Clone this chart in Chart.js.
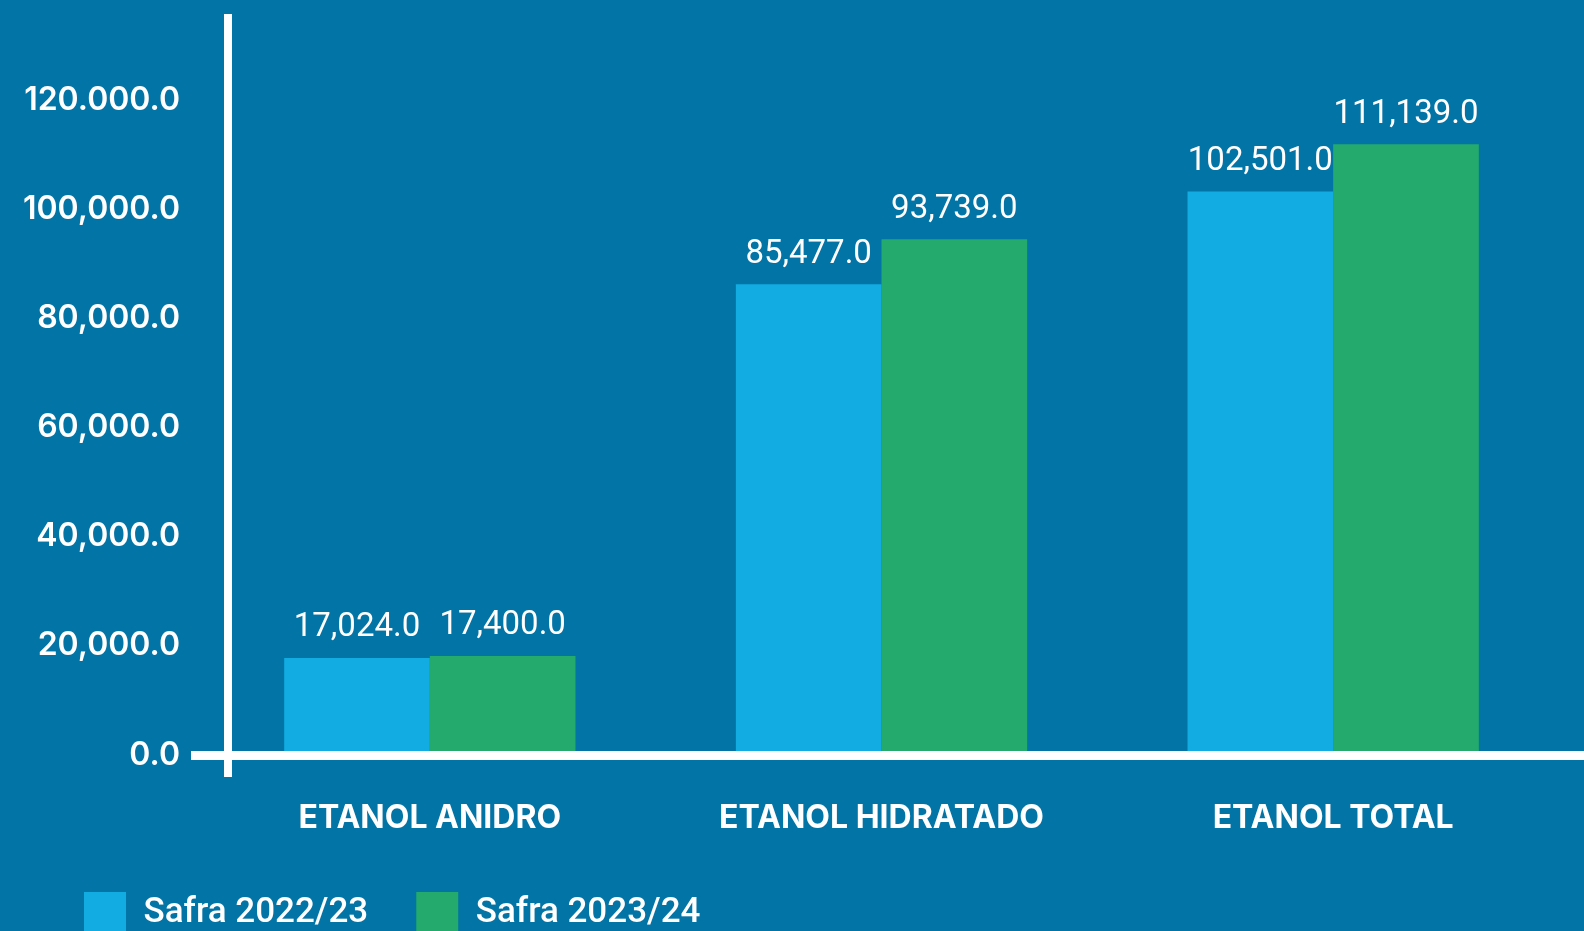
<!DOCTYPE html>
<html>
<head>
<meta charset="utf-8">
<script src="https://cdn.jsdelivr.net/npm/chart.js@4.4.1/dist/chart.umd.min.js"></script>
<style>
    html, body {
        margin: 0;
        padding: 0;
        background: #0374a6;
        overflow: hidden;
    }
    canvas {
        display: block;
    }
</style>
</head>
<body>
<canvas id="chart" width="1584" height="931"></canvas>
<script>
const categories = ['ETANOL ANIDRO', 'ETANOL HIDRATADO', 'ETANOL TOTAL'];
const seriesNames = ['Safra 2022/23', 'Safra 2023/24'];
const safra2223 = [17024, 85477, 102501];
const safra2324 = [17400, 93739, 111139];
const yTicks = [0, 20000, 40000, 60000, 80000, 100000, 120000];
const yTickLabels = ['0.0', '20,000.0', '40,000.0', '60,000.0', '80,000.0', '100,000.0', '120.000.0'];

const BLUE = '#12abe2';
const GREEN = '#24aa6c';
const WHITE = '#ffffff';

// white cross-shaped axes, drawn over the bar bottoms
const axisLines = {
    id: 'axisLines',
    afterDatasetsDraw(chart) {
        const { ctx, chartArea } = chart;
        ctx.save();
        ctx.fillStyle = WHITE;
        ctx.fillRect(chartArea.left - 13, chartArea.bottom, chart.width, 9);
        ctx.fillRect(chartArea.left + 20, chartArea.top, 8, chartArea.bottom - chartArea.top + 26);
        ctx.restore();
    }
};

// value labels above each bar
const valueLabels = {
    id: 'valueLabels',
    afterDatasetsDraw(chart) {
        const { ctx } = chart;
        ctx.save();
        ctx.fillStyle = WHITE;
        ctx.font = '400 33px Roboto';
        ctx.textAlign = 'center';
        ctx.textBaseline = 'middle';
        chart.data.datasets.forEach((ds, i) => {
            chart.getDatasetMeta(i).data.forEach((bar, j) => {
                const txt = ds.data[j].toLocaleString('en-US', { minimumFractionDigits: 1, maximumFractionDigits: 1 });
                ctx.fillText(txt, bar.x, bar.y - 30);
            });
        });
        ctx.restore();
    }
};

// legend sits a bit in from the left edge
const legendShift = {
    id: 'legendShift',
    afterLayout(chart) {
        chart.legend.left += 36;
    }
};

new Chart(document.getElementById('chart'), {
    type: 'bar',
    data: {
        labels: categories,
        datasets: [
            { label: seriesNames[0], data: safra2223, backgroundColor: BLUE, borderWidth: 0 },
            { label: seriesNames[1], data: safra2324, backgroundColor: GREEN, borderWidth: 0 }
        ]
    },
    options: {
        responsive: false,
        animation: false,
        categoryPercentage: 0.645,
        barPercentage: 1.0,
        layout: {
            padding: { left: 0, right: 25, top: 14, bottom: -13 }
        },
        scales: {
            x: {
                grid: { display: false, drawTicks: false },
                border: { display: false },
                ticks: {
                    color: WHITE,
                    padding: 48,
                    font: { family: 'Inter', weight: '700', size: 32 }
                },
                afterFit(scale) {
                    scale.height = 93;
                    scale.paddingLeft = 0;
                    scale.paddingRight = 0;
                }
            },
            y: {
                min: 0,
                max: 135000,
                grid: { display: false, drawTicks: false },
                border: { display: false },
                ticks: {
                    color: WHITE,
                    padding: 24,
                    labelOffset: 4,
                    font: { family: 'Inter', weight: '600', size: 32 },
                    callback: (v, i) => yTickLabels[i]
                },
                afterBuildTicks(scale) {
                    scale.ticks = yTicks.map(v => ({ value: v }));
                },
                afterFit(scale) {
                    scale.width = 204;
                    scale.paddingTop = 0;
                    scale.paddingBottom = 0;
                }
            }
        },
        plugins: {
            tooltip: { enabled: false },
            legend: {
                position: 'bottom',
                align: 'start',
                labels: {
                    color: WHITE,
                    boxWidth: 42,
                    boxHeight: 42,
                    padding: 48,
                    font: { family: 'Roboto', weight: '500', size: 35 }
                }
            }
        }
    },
    plugins: [axisLines, valueLabels, legendShift]
});
</script>
</body>
</html>
